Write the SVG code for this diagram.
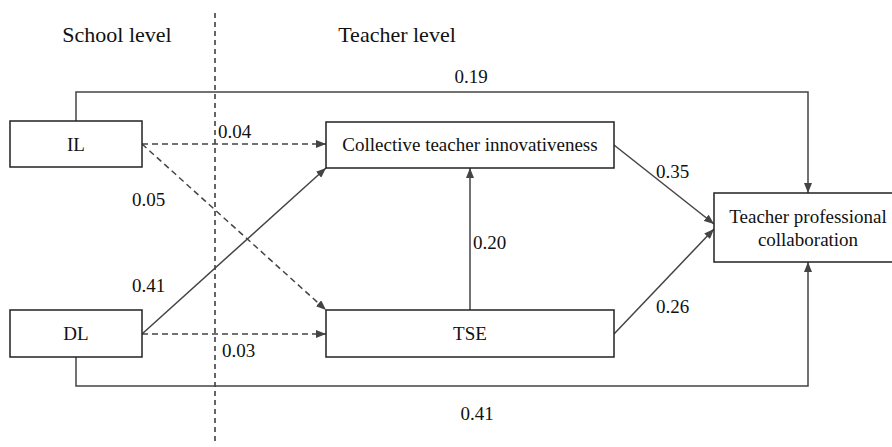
<svg xmlns="http://www.w3.org/2000/svg" width="892" height="447" viewBox="0 0 892 447">
<defs>
<marker id="ah" viewBox="0 0 10 8" refX="10" refY="4" markerWidth="10" markerHeight="8" markerUnits="userSpaceOnUse" orient="auto">
<path d="M0,0 L10,4 L0,8 z" fill="#444"/>
</marker>
</defs>
<style>
.lbl{font-size:19px;}
.hdr{font-size:22px;}
.box{fill:#fff;stroke:#222;stroke-width:1.5;}
.ln{fill:none;stroke:#444;stroke-width:1.5;}
.dl{fill:none;stroke:#444;stroke-width:1.5;stroke-dasharray:6 4;}
</style>
<rect width="892" height="447" fill="#fff"/>
<g font-family="'Liberation Serif', 'DejaVu Serif', serif" fill="#111">
<g id="divider">
<line x1="215" y1="13" x2="215" y2="444" stroke="#333" stroke-width="1.5" stroke-dasharray="5 4"/>
</g>
<g id="headers">
<text class="hdr" x="117" y="42" text-anchor="middle">School level</text>
<text class="hdr" x="397" y="42" text-anchor="middle">Teacher level</text>
</g>
<g id="connectors">
<path class="ln" d="M76,121 V92 H808 V193" marker-end="url(#ah)"/>
<path class="ln" d="M76,357 V386 H808 V262" marker-end="url(#ah)"/>
<path class="dl" d="M142,144 H326" marker-end="url(#ah)"/>
<path class="dl" d="M142,144 L326,310" marker-end="url(#ah)"/>
<path class="ln" d="M142,334 L326,168" marker-end="url(#ah)"/>
<path class="dl" d="M142,334 H326" marker-end="url(#ah)"/>
<path class="ln" d="M470,310 V168" marker-end="url(#ah)"/>
<path class="ln" d="M614,145 L714,224" marker-end="url(#ah)"/>
<path class="ln" d="M614,334 L714,229" marker-end="url(#ah)"/>
</g>
<g id="labels">
<text class="lbl" x="471" y="83" text-anchor="middle">0.19</text>
<text class="lbl" x="218" y="138">0.04</text>
<text class="lbl" x="132" y="206">0.05</text>
<text class="lbl" x="132" y="292">0.41</text>
<text class="lbl" x="222" y="357">0.03</text>
<text class="lbl" x="473" y="249">0.20</text>
<text class="lbl" x="656" y="178">0.35</text>
<text class="lbl" x="656" y="313">0.26</text>
<text class="lbl" x="477" y="420" text-anchor="middle">0.41</text>
</g>
<g id="IL">
<rect class="box" x="10" y="121" width="132" height="46"/>
<text class="lbl" x="76" y="151" text-anchor="middle">IL</text>
</g>
<g id="DL">
<rect class="box" x="10" y="310" width="132" height="47"/>
<text class="lbl" x="76" y="340" text-anchor="middle">DL</text>
</g>
<g id="CTI">
<rect class="box" x="326" y="122" width="288" height="46"/>
<text class="lbl" x="470" y="151" text-anchor="middle">Collective teacher innovativeness</text>
</g>
<g id="TSE">
<rect class="box" x="326" y="310" width="288" height="47"/>
<text class="lbl" x="470" y="340" text-anchor="middle">TSE</text>
</g>
<g id="TPC">
<rect class="box" x="714" y="193" width="188" height="69"/>
<text class="lbl" x="808" y="223" text-anchor="middle">Teacher professional</text>
<text class="lbl" x="808" y="246" text-anchor="middle">collaboration</text>
</g>
</g>
</svg>
